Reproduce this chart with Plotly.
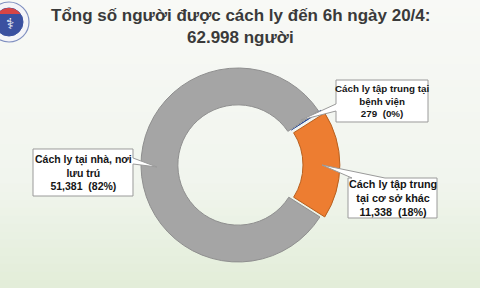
import math
import plotly.graph_objects as go

# ---- data ----
labels = ["Cách ly tập trung tại bệnh viện", "Cách ly tập trung tại cơ sở khác", "Cách ly tại nhà, nơi lưu trú"]
values = [279, 11338, 51381]
percents = ["0%", "18%", "82%"]
value_text = ["279", "11,338", "51,381"]
colors = ["#2f4f94", "#ed7d31", "#a5a5a5"]
line_colors = ["#ffffff", "#b8601f", "#8f8f8f"]
title_lines = ["Tổng số người được cách ly đến 6h ngày 20/4:", "62.998 người"]

W, H = 480, 288
def px(x):
    return x / W
def py(y):
    return 1 - y / H

def path(points):
    s = "M " + " L ".join(f"{px(x):.5f} {py(y):.5f}" for x, y in points) + " Z"
    return s

fig = go.Figure()

# donut: centre (238,165), outer r 97, max pull 0.05
half = 97 * 1.05
cx, cy = 238, 165
fig.add_trace(go.Pie(
    labels=labels, values=values, sort=False, direction="clockwise",
    rotation=56, hole=0.62, pull=[0.03, 0.05, 0],
    marker=dict(colors=colors, line=dict(color=line_colors, width=1)),
    textinfo="none", hoverinfo="skip", showlegend=False,
    domain=dict(x=[px(cx - half), px(cx + half)], y=[py(cy + half), py(cy - half)]),
))

shapes = []
# background gradient
def lerp(a, b, t):
    return tuple(int(round(a[i] + (b[i] - a[i]) * t)) for i in range(3))
top, mid, bot = (248, 249, 246), (241, 245, 238), (226, 237, 216)
n = 36
for i in range(n):
    y0 = i * H / n
    y1 = (i + 1) * H / n
    yc = (y0 + y1) / 2
    if yc < 180:
        c = lerp(top, mid, yc / 180)
    else:
        c = lerp(mid, bot, (yc - 180) / (H - 180))
    shapes.append(dict(type="rect", xref="paper", yref="paper", x0=0, x1=1,
                       y0=py(y1), y1=py(y0) + 0.001, fillcolor=f"rgb{c}",
                       line=dict(width=0), layer="below"))

# logo
lx, ly = 9, 22
shapes.append(dict(type="circle", xref="paper", yref="paper", x0=px(lx - 20), x1=px(lx + 20),
                   y0=py(ly + 20), y1=py(ly - 20), fillcolor="#f4f4f8",
                   line=dict(color="#8090c0", width=1.2)))
shapes.append(dict(type="circle", xref="paper", yref="paper", x0=px(lx - 14), x1=px(lx + 14),
                   y0=py(ly + 14), y1=py(ly - 14), fillcolor="#3a50a0",
                   line=dict(color="#3a50a0", width=1)))
cap = [(lx + 14 * math.cos(math.radians(a)), ly - 14 * math.sin(math.radians(a))) for a in range(35, 146, 10)]
shapes.append(dict(type="path", xref="paper", yref="paper", path=path(cap),
                   fillcolor="#d84545", line=dict(width=0)))

# callouts (box + tail)
callout_line = dict(color="#9a9a9a", width=1)
left_box = [(33, 149), (133, 149), (133, 158), (157, 167), (133, 164), (133, 196), (33, 196)]
tr_box = [(336, 80), (428, 80), (428, 122), (336, 122), (336, 111), (301, 120), (336, 104)]
br_box = [(348, 178), (352, 178), (322, 165), (385, 178), (437, 178), (437, 218), (348, 218)]
for pts in (left_box, tr_box, br_box):
    shapes.append(dict(type="path", xref="paper", yref="paper", path=path(pts),
                       fillcolor="white", line=callout_line))

annotations = []
arial = "Liberation Sans, Arial, sans-serif"
texts = [
    ("<b>Cách ly tập trung tại<br>bệnh viện<br>" + value_text[0] + "  (" + percents[0] + ")</b>", 382, 101, 9.8),
    ("<b>Cách ly tập trung<br>tại cơ sở khác<br>" + value_text[1] + "  (" + percents[1] + ")</b>", 392.5, 198, 10.8),
    ("<b>Cách ly tại nhà, nơi<br>lưu trú<br>" + value_text[2] + "  (" + percents[2] + ")</b>", 83, 172.5, 10.5),
]
for t, x, y, sz in texts:
    annotations.append(dict(text=t, x=px(x), y=py(y), xref="paper", yref="paper",
                            showarrow=False, xanchor="center", yanchor="middle",
                            align="center", font=dict(family=arial, size=sz, color="#151515")))

# title
tfont = dict(family=arial, size=17, color="#3a3a3a")
annotations.append(dict(text="<b>" + title_lines[0] + "</b>", x=px(240), y=py(15), xref="paper", yref="paper",
                        showarrow=False, xanchor="center", yanchor="middle", font=tfont))
annotations.append(dict(text="<b>" + title_lines[1] + "</b>", x=px(240), y=py(38), xref="paper", yref="paper",
                        showarrow=False, xanchor="center", yanchor="middle", font=tfont))
# logo glyph
annotations.append(dict(text="⚕", x=px(lx + 1), y=py(ly + 2), xref="paper", yref="paper",
                        showarrow=False, xanchor="center", yanchor="middle",
                        font=dict(family="DejaVu Sans", size=15, color="white")))

fig.update_layout(
    width=W, height=H, margin=dict(l=0, r=0, t=0, b=0),
    paper_bgcolor="#f5f7f2", plot_bgcolor="rgba(0,0,0,0)",
    shapes=shapes, annotations=annotations, showlegend=False,
)
fig.write_html("out.html", config={"displayModeBar": False})
